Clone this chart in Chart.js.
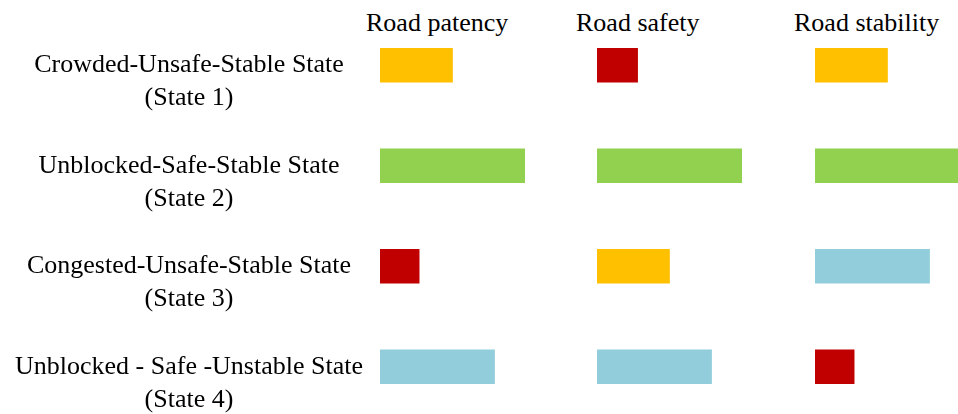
<!DOCTYPE html>
<html>
<head>
<meta charset="utf-8">
<script src="https://cdn.jsdelivr.net/npm/chart.js@4"></script>
<style>
    html, body { margin: 0; padding: 0; background: #fff; overflow: hidden; width: 958px; height: 414px; }
    .col { position: absolute; top: 0; height: 420px; }
    .head { position: absolute; top: 10px; font: 26px/26px 'Liberation Serif', 'Times New Roman', serif; color: #000; white-space: nowrap; }
</style>
</head>
<body>
<div class="head" style="left:366px">Road patency</div>
<div class="head" style="left:576px">Road safety</div>
<div class="head" style="left:794px">Road stability</div>

<div class="col" style="left:0; width:540px"><canvas id="patencyChart"></canvas></div>
<div class="col" style="left:597px; width:160px"><canvas id="safetyChart"></canvas></div>
<div class="col" style="left:815px; width:160px"><canvas id="stabilityChart"></canvas></div>

<script>
// Road states (rows)
const states = [
    ['', 'Crowded-Unsafe-Stable State', '(State 1)'],
    ['', 'Unblocked-Safe-Stable State', '(State 2)'],
    ['', 'Congested-Unsafe-Stable State', '(State 3)'],
    ['', 'Unblocked - Safe -Unstable State', '(State 4)']
];

// Indicator levels (full bar = 1)
const patency = [0.50, 1.00, 0.27, 0.79];
const safety = [0.28, 1.00, 0.50, 0.79];
const stability = [0.50, 1.00, 0.79, 0.27];

// Level colours
function levelColor(v) {
    if (v < 0.4) return '#C00000';
    if (v < 0.65) return '#FFC000';
    if (v < 0.9) return '#92CDDC';
    return '#92D050';
}

const serif = "'Liberation Serif', 'Times New Roman', serif";

function makeChart(id, values, showLabels) {
    const ctx = document.getElementById(id);
    return new Chart(ctx, {
        type: 'bar',
        data: {
            labels: states,
            datasets: [{
                data: values,
                backgroundColor: values.map(levelColor),
                borderWidth: 0,
                barThickness: 34
            }]
        },
        options: {
            indexAxis: 'y',
            responsive: true,
            maintainAspectRatio: false,
            animation: false,
            layout: {
                padding: { top: 15, bottom: 3, left: 0, right: 15 }
            },
            plugins: {
                legend: { display: false },
                tooltip: { enabled: false }
            },
            scales: {
                x: {
                    display: false,
                    min: 0,
                    max: 1
                },
                y: {
                    display: showLabels,
                    grid: { display: false, drawTicks: false },
                    border: { display: false },
                    ticks: {
                        color: '#000',
                        autoSkip: false,
                        crossAlign: 'center',
                        padding: 17,
                        font: { family: serif, size: 26, lineHeight: 1.27 }
                    },
                    afterFit: function(scale) {
                        if (!showLabels) return;
                        scale.width = 380;
                        // labels may overflow the bands, keep the plot area as is
                        scale.paddingTop = 0;
                        scale.paddingBottom = 0;
                    }
                }
            }
        }
    });
}

makeChart('patencyChart', patency, true);
makeChart('safetyChart', safety, false);
makeChart('stabilityChart', stability, false);
</script>
</body>
</html>
